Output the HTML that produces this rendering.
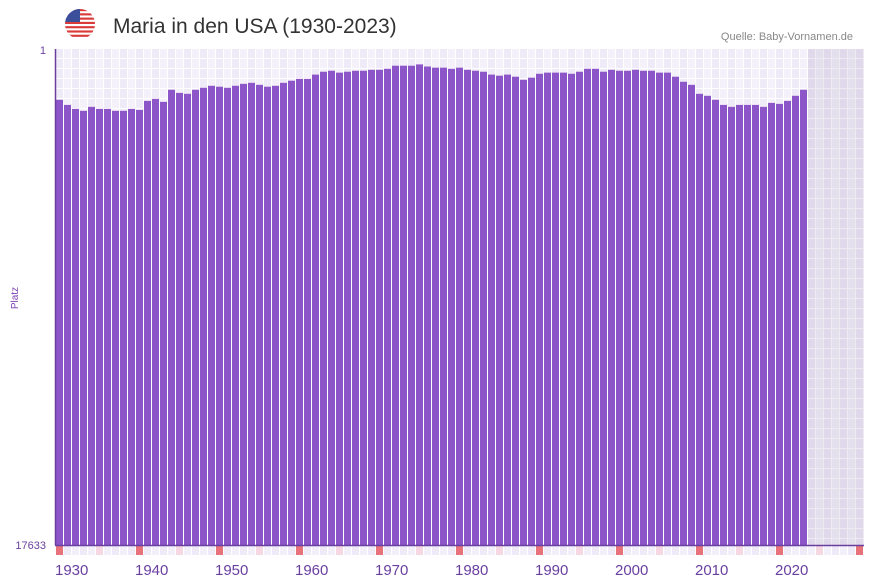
<!DOCTYPE html>
<html><head><meta charset="utf-8"><style>
body{margin:0;background:#fff;font-family:"Liberation Sans",sans-serif;}
svg{display:block}
</style></head><body>
<svg id="c" width="873" height="587" xmlns="http://www.w3.org/2000/svg">
<defs>
<pattern id="grid" x="56" y="49" width="16" height="10" patternUnits="userSpaceOnUse">
<rect x="0" y="0" width="16" height="10" fill="#fff"/>
<rect x="0" y="0" width="7" height="9" fill="#efeaf8"/>
<rect x="8" y="0" width="7" height="9" fill="#f4f1fb"/>
</pattern>
<clipPath id="fc"><circle cx="80" cy="24" r="15"/></clipPath>
</defs>
<g clip-path="url(#fc)">
<rect x="65" y="9" width="30" height="30" fill="#fff"/>
<g id="stripes"></g>
<rect x="65" y="9" width="15" height="13" fill="#3c4f9a"/>
</g>
<text x="113" y="33" font-size="21" fill="#333">Maria in den USA (1930-2023)</text>
<text x="853" y="40" font-size="11" fill="#888" text-anchor="end">Quelle: Baby-Vornamen.de</text>
<rect x="56" y="49" width="808" height="496" fill="url(#grid)"/>
<rect x="808" y="49" width="56" height="496" fill="#9a8fb0" opacity="0.18"/>
<g id="bars"></g>
<g id="ticks"></g>
<line x1="55.5" y1="49" x2="55.5" y2="545" stroke="#6a3fa0" stroke-width="1.5"/>
<line x1="55" y1="545.5" x2="864" y2="545.5" stroke="#6a3fa0" stroke-width="1.5"/>
<text x="46" y="54" font-size="11" fill="#6a3fa0" text-anchor="end">1</text>
<text x="46" y="549" font-size="11" fill="#6a3fa0" text-anchor="end">17633</text>
<text x="18" y="298" font-size="10" fill="#7a3fb0" text-anchor="middle" transform="rotate(-90 18 298)">Platz</text>
</svg>
<script>
const years=[];for(let y=1930;y<=2023;y++)years.push(y);
const ranks=[186,225,258,275,241,258,258,275,275,258,267,194,179,201,120,139,145,120,109,98,103,109,98,88,83,93,103,98,83,73,65,65,48,38,35,41,38,35,35,32,32,29,21,21,21,18,23,26,26,29,26,32,35,38,48,52,48,56,69,60,45,41,41,41,45,38,29,29,38,32,35,35,32,35,35,41,41,56,78,93,145,158,186,225,241,225,225,225,241,209,217,194,158,120];
const tickYears=[1930,1940,1950,1960,1970,1980,1990,2000,2010,2020];
const maxRank=17633;
const X0=56,step=8,Y0=49,H=496,firstYear=1930;
function xs(yr){return X0+(yr-firstYear)*step;}
function ys(r){return Y0+H*Math.sqrt((r-1)/(maxRank-1));}
const NS="http://www.w3.org/2000/svg";
const st=document.getElementById('stripes');
for(let i=0;i<7;i++){const r=document.createElementNS(NS,'rect');r.setAttribute('x',65);r.setAttribute('y',9+i*30/7*1);r.setAttribute('width',30);r.setAttribute('height',30/14);r.setAttribute('fill','#d93a3a');st.appendChild(r);}
const bg=document.getElementById('bars');
years.forEach((yr,i)=>{
 const r=document.createElementNS(NS,'rect');
 const y=ys(ranks[i]);
 r.setAttribute('x',xs(yr));r.setAttribute('y',y);r.setAttribute('width',7);r.setAttribute('height',545-y);r.setAttribute('fill','#8c55c8');
 
 
 bg.appendChild(r);
});
const tg=document.getElementById('ticks');
for(let yr=1930;yr<=2030;yr++){
 const r=document.createElementNS(NS,'rect');
 const d=yr%10;
 r.setAttribute('x',xs(yr));r.setAttribute('y',546);r.setAttribute('width',7);r.setAttribute('height',9);
 r.setAttribute('fill',d===0?'#e8727a':d===5?'#f5d8e2':(yr%2?'#efeaf8':'#f3f0fb'));
 
 
 tg.appendChild(r);
}
tickYears.forEach(yr=>{
 const t=document.createElementNS(NS,'text');
 t.setAttribute('x',xs(yr)-1);t.setAttribute('y',575);t.setAttribute('font-size','15');t.setAttribute('fill','#6a3fa0');
 t.textContent=yr;
 
 
 tg.appendChild(t);
});
</script>
</body></html>
